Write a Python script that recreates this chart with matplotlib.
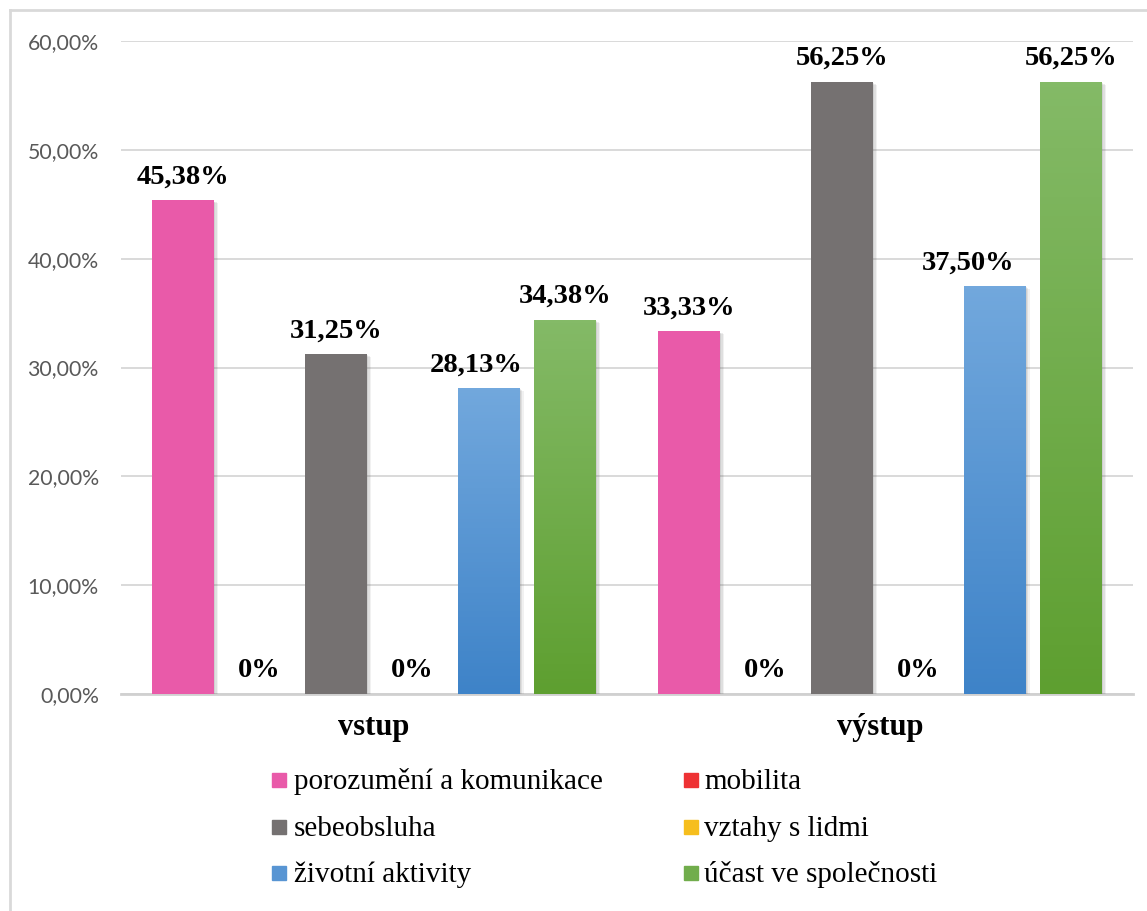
import numpy as np
import matplotlib.pyplot as plt
import matplotlib.patheffects as pe
from matplotlib.patches import Rectangle
from matplotlib.lines import Line2D
from matplotlib.ticker import FuncFormatter
from matplotlib.colors import to_rgb

# data (percent)
categories = ["vstup", "výstup"]
series_names = ["porozumění a komunikace", "mobilita", "sebeobsluha",
                "vztahy s lidmi", "životní aktivity", "účast ve společnosti"]
porozumeni = [45.38, 33.33]
mobilita = [0, 0]
sebeobsluha = [31.25, 56.25]
vztahy = [0, 0]
zivotni = [28.13, 37.50]
ucast = [34.38, 56.25]
y_ticks = [0, 10, 20, 30, 40, 50, 60]

series = [porozumeni, mobilita, sebeobsluha, vztahy, zivotni, ucast]
# (top colour, bottom colour) of each series, gradient fill
colors = [("#E95AA9", "#E95AA9"),
          ("#EE3234", "#EE3234"),
          ("#757171", "#757171"),
          ("#FFCB3A", "#EDB100"),
          ("#72A8DD", "#3E83C8"),
          ("#84BA67", "#5E9F30")]
# sideways nudge of some value labels (points)
label_nudge = {(4, 0): -9, (4, 1): -19}

W, H = 1147, 911
fig = plt.figure(figsize=(W / 100, H / 100), dpi=100)
ax = fig.add_axes([121 / W, 1 - 694 / H, (1133 - 121) / W, (694 - 41) / H])

serif = "Liberation Serif"
bar_w = 0.1225
step = 0.151
x = np.arange(len(categories))

shadow = [pe.SimplePatchShadow(offset=(1, -1), shadow_rgbFace="0.3", alpha=0.10),
          pe.SimplePatchShadow(offset=(2, -1.5), shadow_rgbFace="0.3", alpha=0.10),
          pe.SimplePatchShadow(offset=(3, -2), shadow_rgbFace="0.3", alpha=0.08),
          pe.Normal()]

for i, vals in enumerate(series):
    top, bottom = colors[i]
    pos = x + (i - 2.5) * step
    bars = ax.bar(pos, vals, width=bar_w, color=bottom, zorder=3)
    for j, b in enumerate(bars):
        if vals[j] > 0:
            b.set_path_effects(shadow)
            if top != bottom:
                t = np.linspace(0, 1, 100)[:, None, None]
                grad = (1 - t) * np.array(to_rgb(top)) + t * np.array(to_rgb(bottom))
                im = ax.imshow(grad, extent=[pos[j] - bar_w / 2, pos[j] + bar_w / 2, 0, vals[j]],
                               aspect="auto", origin="upper", zorder=4)
                im.set_clip_path(b)
        txt = "0%" if vals[j] == 0 else f"{vals[j]:.2f}%".replace(".", ",")
        ax.annotate(txt, (pos[j], vals[j]), xytext=(label_nudge.get((i, j), 0), 12),
                    textcoords="offset points", ha="center", va="baseline",
                    fontsize=20.5, fontweight="bold", family=serif, zorder=5)

ax.set_xlim(-0.5, 1.5)
ax.set_ylim(0, 60)
ax.set_yticks(y_ticks)
ax.yaxis.set_major_formatter(FuncFormatter(lambda v, p: f"{v:.2f}%".replace(".", ",")))
ax.set_xticks(x)
ax.set_xticklabels(categories, fontsize=22, fontweight="bold", family=serif)
ax.tick_params(axis="x", length=0, pad=14)
ax.tick_params(axis="y", length=0, pad=16, labelsize=15.3, labelcolor="#595959")
for lab in ax.get_yticklabels():
    lab.set_family("Lato")

ax.grid(axis="y", color="#D9D9D9", linewidth=1.4, zorder=0)
for s in ["top", "right", "left"]:
    ax.spines[s].set_visible(False)
ax.spines["bottom"].set_color("#D0D0D0")
ax.spines["bottom"].set_linewidth(2)
ax.spines["bottom"].set_zorder(2)

# legend, two columns filled row by row
for i, name in enumerate(series_names):
    row, col = i // 2, i % 2
    base = 789 + row * 46.5
    sx = [272, 684][col]
    tx = [294, 704][col]
    top, bottom = colors[i]
    mid = tuple((np.array(to_rgb(top)) + np.array(to_rgb(bottom))) / 2)
    fig.add_artist(Rectangle((sx / W, 1 - (base - 2) / H), 14 / W, 14 / H,
                             transform=fig.transFigure, color=mid))
    fig.text(tx / W, 1 - base / H, name, fontsize=21, family=serif, va="baseline")

# chart border (left and top edges)
fig.add_artist(Line2D([10 / W, 10 / W], [0, 1 - 10 / H], transform=fig.transFigure,
                      color="#D9D9D9", linewidth=2))
fig.add_artist(Line2D([10 / W, 1], [1 - 10 / H, 1 - 10 / H], transform=fig.transFigure,
                      color="#D9D9D9", linewidth=2))

fig.savefig("out.png", dpi=100)
